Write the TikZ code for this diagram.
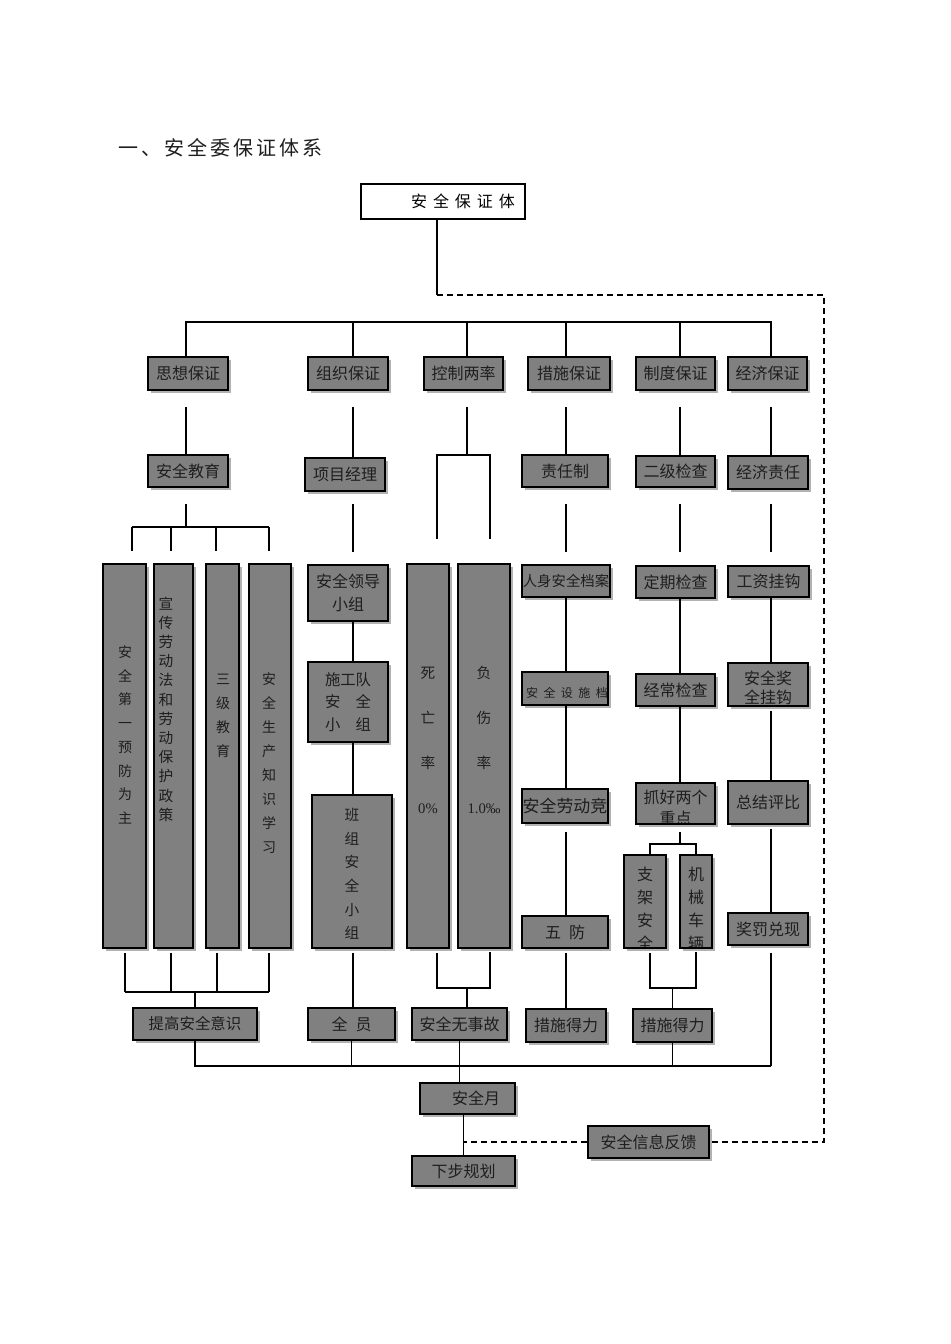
\documentclass[tikz,border=0pt]{standalone}
\usepackage{fontspec}
\newfontfamily\cjk{Noto Sans CJK SC}
\newfontfamily\cjktitle[LetterSpace=15]{Noto Sans CJK SC}
\newfontfamily\cjktop[LetterSpace=37]{Noto Sans CJK SC}
\newfontfamily\cjkss[LetterSpace=45]{Noto Sans CJK SC}
\newfontfamily\numfont{Liberation Serif}
\newcommand{\zh}[2]{\cjk\fontsize{#1}{#2}\selectfont}
\usetikzlibrary{shadows}
\definecolor{boxgray}{RGB}{128,128,128}
\definecolor{shadegray}{RGB}{178,178,178}
\definecolor{inkgray}{RGB}{30,30,30}

\begin{document}
\begin{tikzpicture}[x=0.75pt,y=-0.75pt,
  area/.style args={#1,#2,#3,#4}{minimum width={(#3-#1)*0.75pt},minimum height={(#4-#2)*0.75pt},
    at={({(#1+#3)/2},{(#2+#4)/2})}},
  gbox/.style={draw=black,line width=1.4pt,fill=boxgray,inner sep=0pt,align=center,
    text=inkgray,font=\zh{12}{14},
    drop shadow={shadow xshift=2.2pt,shadow yshift=-2.2pt,fill=shadegray,opacity=1}},
  wbox/.style={draw=black,line width=1.2pt,fill=white,inner sep=0pt},
  vtxt/.style={align=center,inner sep=0pt,text=inkgray},
  link/.style={line width=1.1pt},
  fb/.style={line width=1.1pt,dash pattern=on 4.5pt off 3pt}]
  \fill[white] (0,0) rectangle (950,1344);

  % title and head box
  \node[anchor=west,inner sep=0pt,text=inkgray,font=\cjktitle\fontsize{15}{18}\selectfont] (title) at (118,148) {一、安全委保证体系};
  \node[wbox,area={361,184,525,219},font=\cjktop\fontsize{12}{14}\selectfont] (top) {\hspace*{30pt}安全保证体};

  % column lines
  \coordinate (c1) at (186,0);
  \coordinate (c2) at (353,0);
  \coordinate (c3) at (467,0);
  \coordinate (c4) at (566,0);
  \coordinate (c5) at (680,0);
  \coordinate (c6) at (771,0);
  \coordinate (k1) at (437,0);
  \coordinate (k2) at (490,0);
  \coordinate (p1) at (650,0);
  \coordinate (p2) at (696,0);

  % first row
  \node[gbox,area={148,357,228,390}] (sxbz) {思想保证};
  \node[gbox,area={308,357,388,390}] (zzbz) {组织保证};
  \node[gbox,area={424,357,503,390}] (kzll) {控制两率};
  \node[gbox,area={528,357,610,390}] (csbz) {措施保证};
  \node[gbox,area={636,357,715,390}] (zdbz) {制度保证};
  \node[gbox,area={728,357,807,390}] (jjbz) {经济保证};

  % second row
  \node[gbox,area={148,455,228,487}] (aqjy) {安全教育};
  \node[gbox,area={305,458,385,491}] (xmjl) {项目经理};
  \node[gbox,area={522,455,608,487}] (zrz) {责任制};
  \node[gbox,area={636,456,715,487}] (ejjc) {二级检查};
  \node[gbox,area={728,456,808,489}] (jjzr) {经济责任};

  % tall boxes
  \node[gbox,area={103,564,146,948}] (b1) {};
  \node[gbox,area={154,564,193,948}] (b2) {};
  \node[gbox,area={206,564,239,948}] (b3) {};
  \node[gbox,area={249,564,291,948}] (b4) {};
  \node[vtxt,font=\zh{10.5}{17.8}] (t1) at (125,735) {安\\全\\第\\一\\预\\防\\为\\主};
  \node[vtxt,font=\zh{11}{14.4}] (t2) at (166,709) {宣\\传\\劳\\动\\法\\和\\劳\\动\\保\\护\\政\\策};
  \node[vtxt,font=\zh{10.5}{18}] (t3) at (223,716) {三\\级\\教\\育};
  \node[vtxt,font=\zh{10.5}{18}] (t4) at (269,763) {安\\全\\生\\产\\知\\识\\学\\习};

  \node[gbox,area={308,565,388,621},font=\zh{12}{17.25}] (aqld) {安全领导\\小组};
  \node[gbox,area={308,662,388,742},font=\zh{11.5}{16.9}] (sgd) {施工队\\安\hspace{11.5pt}全\\小\hspace{11.5pt}组};
  \node[gbox,area={312,795,392,948}] (bz) {};
  \node[vtxt,font=\zh{11}{17.7}] (tbz) at (352,874) {班\\组\\安\\全\\小\\组};

  \node[gbox,area={407,564,449,948}] (swl) {};
  \node[gbox,area={458,564,510,948}] (fsl) {};
  \node[vtxt,font=\zh{11}{33.75}] (tsw) at (428,740) {死\\亡\\率\\{\numfont 0\%}};
  \node[vtxt,font=\zh{11}{33.75}] (tfs) at (484,740) {负\\伤\\率\\{\numfont 1.0‰}};

  \node[gbox,area={522,565,610,597},font=\zh{10.8}{13}] (rsda) {人身安全档案};
  \node[gbox,area={522,672,608,705},path picture={
    \node[inner sep=0pt,text=inkgray,font=\cjkss\fontsize{9}{11}\selectfont] at ([xshift=1.5pt,yshift=-3.4pt]path picture bounding box.center) {安全设施档};}] (ssda) {};
  \node[gbox,area={522,789,608,823},font=\zh{12.7}{15}] (ldj) {安全劳动竞};
  \node[gbox,area={522,916,608,948}] (wf) {五\hspace{6pt}防};

  \node[gbox,area={636,566,715,598}] (dqjc) {定期检查};
  \node[gbox,area={636,674,715,706}] (cjjc) {经常检查};
  \node[gbox,area={636,783,715,824},path picture={
    \node[vtxt,font=\zh{12}{15.75}] at ([yshift=-3pt]path picture bounding box.center) {抓好两个\\重点};}] (zhd) {};
  \node[gbox,area={624,855,666,948},path picture={
    \node[vtxt,font=\zh{12}{17.25}] at ([yshift=-5.25pt]path picture bounding box.center) {支\\架\\安\\全};}] (zjaq) {};
  \node[gbox,area={680,855,712,948},path picture={
    \node[vtxt,font=\zh{12}{17.25}] at ([yshift=-5.25pt]path picture bounding box.center) {机\\械\\车\\辆};}] (jxcl) {};

  \node[gbox,area={728,566,809,597}] (gzgg) {工资挂钩};
  \node[gbox,area={728,663,808,706},path picture={
    \node[vtxt,font=\zh{12}{14.25}] at ([yshift=-2.25pt]path picture bounding box.center) {安全奖\\全挂钩};}] (aqj) {};
  \node[gbox,area={728,781,808,824}] (zjpb) {总结评比};
  \node[gbox,area={728,913,808,945}] (jfdx) {奖罚兑现};

  % bottom rows
  \node[gbox,area={133,1008,257,1040},font=\zh{11.6}{14}] (tgyz) {提高安全意识};
  \node[gbox,area={308,1008,395,1040}] (qy) {全\hspace{6pt}员};
  \node[gbox,area={412,1008,507,1040}] (aqwsg) {安全无事故};
  \node[gbox,area={526,1009,606,1042}] (cs1) {措施得力};
  \node[gbox,area={633,1009,712,1042}] (cs2) {措施得力};
  \node[gbox,area={420,1083,515,1114}] (aqy) {\hspace*{12.75pt}安全月};
  \node[gbox,area={412,1156,515,1186}] (xbgh) {下步规划};
  \node[gbox,area={588,1126,709,1158}] (xxfk) {安全信息反馈};

  % head line and feedback loop
  \coordinate (hub) at (437,295);
  \coordinate (fbr) at (824,295);
  \draw[link] (top.south -| hub) -- (hub);
  \draw[fb] (hub) -- (fbr) |- (xxfk.east);
  \draw[fb] (xxfk.west) -- (xxfk.west -| xbgh.north);

  % first bus
  \coordinate (bus) at (0,322);
  \draw[link] (sxbz.north -| c1) -- (bus -| c1) -- (bus -| c6) -- (jjbz.north -| c6);
  \foreach \n/\c in {zzbz/c2,kzll/c3,csbz/c4,zdbz/c5}
    \draw[link] (bus -| \c) -- (\n.north -| \c);

  % first row to second row
  \foreach \a/\b/\c in {sxbz/aqjy/c1,zzbz/xmjl/c2,csbz/zrz/c4,zdbz/ejjc/c5,jjbz/jjzr/c6}
    \draw[link] (\a.south -| \c) ++(0,16) -- (\b.north -| \c);
  \draw[link] (kzll.south -| c3) ++(0,16) -- ++(0,48) coordinate (kb);
  \draw[link] (kb -| k1) ++(0,84) -- (kb -| k1) -- (kb -| k2) -- ++(0,84);

  % second row down
  \coordinate (jb) at (0,527);
  \draw[link] (aqjy.south -| c1) ++(0,16) -- (jb -| c1);
  \draw[link] (jb -| 132,0) -- (jb -| 269,0);
  \foreach \x in {132,171,216,269}
    \draw[link] (jb -| \x,0) -- ++(0,24);
  \draw[link] (xmjl.south -| c2) ++(0,12) -- ++(0,48);
  \draw[link] (zrz.south -| c4) ++(0,16) -- ++(0,48);
  \draw[link] (ejjc.south -| c5) ++(0,16) -- ++(0,48);
  \draw[link] (jjzr.south -| c6) ++(0,14) -- ++(0,48);

  % chains
  \draw[link] (aqld.south -| c2) -- (sgd.north -| c2);
  \draw[link] (sgd.south -| c2) -- (bz.north -| c2);
  \draw[link] (rsda.south -| c4) -- (ssda.north -| c4);
  \draw[link] (ssda.south -| c4) -- (ldj.north -| c4);
  \draw[link] (ldj.south -| c4) ++(0,8) -- (wf.north -| c4);
  \draw[link] (dqjc.south -| c5) -- (cjjc.north -| c5);
  \draw[link] (cjjc.south -| c5) -- (zhd.north -| c5);
  \draw[link] (zhd.south -| c5) ++(0,7) -- ++(0,12) coordinate (zb);
  \draw[link] (zjaq.north -| p1) |- (zb) -| (jxcl.north -| p2);
  \draw[link] (gzgg.south -| c6) -- (aqj.north -| c6);
  \draw[link] (aqj.south -| c6) ++(0,4) -- (zjpb.north -| c6);
  \draw[link] (zjpb.south -| c6) ++(0,4) -- (jfdx.north -| c6);

  % lower brackets
  \coordinate (lb) at (0,992);
  \coordinate (kc) at (0,988);
  \coordinate (mb) at (0,1066);
  \foreach \x in {125,171,217,269}
    \draw[link] (b1.south -| \x,0) ++(0,4) -- (lb -| \x,0);
  \draw[link] (lb -| 125,0) -- (lb -| 269,0);
  \draw[link] (lb -| tgyz.north) -- (tgyz.north);
  \draw[link] (bz.south -| c2) ++(0,4) -- (qy.north -| c2);
  \draw[link] (swl.south -| k1) ++(0,4) |- (kc -| k2) -- ++(0,-36);
  \draw[link] (kc -| c3) -- (aqwsg.north -| c3);
  \draw[link] (wf.south -| c4) ++(0,4) -- (cs1.north -| c4);
  \draw[link] (zjaq.south -| p1) ++(0,4) |- (kc -| p2) -- ++(0,-36);
  \draw[link] (kc -| cs2.north) -- (cs2.north);
  \draw[link] (jfdx.south -| c6) ++(0,7) -- (mb -| c6);

  % last bus
  \draw[link] (tgyz.south) |- (mb -| c6);
  \draw[link] (qy.south) -- (qy.south |- mb);
  \draw[link] (cs2.south) -- (cs2.south |- mb);
  \draw[link] (aqwsg.south) -- (aqwsg.south |- aqy.north);
  \draw[link] (aqy.south -| xbgh.north) -- (xbgh.north);
\end{tikzpicture}
\end{document}
